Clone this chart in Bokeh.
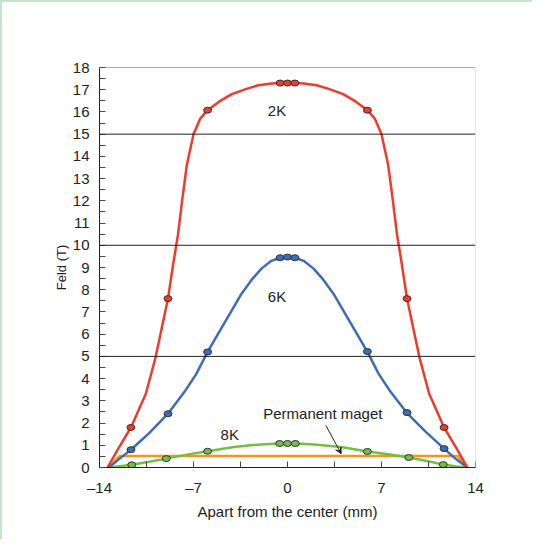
from bokeh.plotting import figure
from bokeh.models import Range1d, FixedTicker, Span, Arrow, VeeHead, ColumnDataSource
from bokeh.layouts import column
from bokeh.core.properties import value
from bokeh.embed import file_html
from bokeh.resources import INLINE

# ---- data ----
red_x = [-13.4, -12.6, -11.66, -10.55, -9.82, -8.9, -8.5, -8.15, -7.85, -7.5, -7.0, -6.5, -5.95,
         -5.0, -4.15, -3.0, -2.18, -1.2, -0.55, 0.0, 0.55, 1.2, 2.18, 3.0, 4.15, 5.0, 5.95, 6.5,
         7.0, 7.5, 7.85, 8.15, 8.5, 8.9, 9.82, 10.55, 11.66, 12.6, 13.4]
red_y = [0.0, 0.85, 1.8, 3.32, 4.97, 7.6, 9.2, 10.5, 12.0, 13.6, 15.0, 15.7, 16.08,
         16.5, 16.8, 17.05, 17.2, 17.28, 17.3, 17.32, 17.3, 17.28, 17.2, 17.05, 16.8, 16.5, 16.08, 15.7,
         15.0, 13.6, 12.0, 10.5, 9.2, 7.6, 4.97, 3.32, 1.8, 0.85, 0.0]
red_mx = [-11.66, -8.9, -5.95, -0.55, 0.0, 0.55, 5.95, 8.9, 11.66]
red_my = [1.8, 7.6, 16.08, 17.3, 17.3, 17.3, 16.08, 7.6, 1.8]

blue_x = [-13.3, -12.5, -11.66, -10.3, -8.9, -7.6, -6.8, -5.95, -4.65, -3.42, -2.6, -1.94, -1.2,
          -0.56, 0.0, 0.56, 1.2, 1.94, 2.6, 3.42, 4.65, 5.95, 6.8, 7.6, 8.9, 10.3, 11.66, 12.5, 13.4]
blue_y = [0.0, 0.4, 0.8, 1.55, 2.42, 3.47, 4.2, 5.2, 6.55, 7.82, 8.5, 8.95, 9.3,
          9.44, 9.47, 9.44, 9.3, 8.95, 8.5, 7.82, 6.55, 5.2, 4.2, 3.47, 2.45, 1.6, 0.85, 0.4, 0.0]
blue_mx = [-11.66, -8.9, -5.95, -0.55, 0.0, 0.55, 5.95, 8.9, 11.66]
blue_my = [0.8, 2.42, 5.2, 9.44, 9.47, 9.44, 5.22, 2.47, 0.85]

green_x = [-13.3, -12.5, -11.6, -10.3, -9.03, -7.5, -5.95, -4.0, -2.0, -0.58, 0.0, 0.58, 2.0,
           4.0, 5.95, 7.5, 9.03, 10.3, 11.6, 12.6, 13.5]
green_y = [0.0, 0.06, 0.12, 0.26, 0.4, 0.58, 0.73, 0.92, 1.04, 1.08, 1.09, 1.08, 1.04,
           0.92, 0.72, 0.6, 0.45, 0.3, 0.13, 0.05, 0.0]
green_mx = [-11.6, -9.03, -5.95, -0.58, 0.0, 0.58, 5.95, 9.03, 11.6]
green_my = [0.12, 0.4, 0.73, 1.08, 1.08, 1.08, 0.72, 0.45, 0.13]

orange_x = [-13.3, -12.5, 12.7, 13.35]
orange_y = [0.0, 0.52, 0.52, 0.0]

labels_txt = ["2K", "6K", "8K", "Permanent maget"]
labels_x = [-0.78, -0.78, -4.3, 2.63]
labels_y = [16.08, 7.7, 1.49, 2.41]

x_ticks = [-14, -7, 0, 7, 14]
x_minor = [-10.5, -3.5, 3.5, 10.5]
y_ticks = list(range(0, 19))
y_minor = [i + 0.5 for i in range(0, 18)]
grid_levels = [5, 10, 15]

FONT = "Liberation Sans"

p = figure(width=530, height=537, output_backend="svg", toolbar_location=None,
           x_range=Range1d(-14, 14), y_range=Range1d(0, 18),
           min_border_left=97, min_border_right=57, min_border_top=65, min_border_bottom=72)
p.background_fill_color = "white"
p.border_fill_color = "white"
p.outline_line_color = None
p.xgrid.visible = False
p.ygrid.visible = False

for lv in grid_levels:
    p.add_layout(Span(location=lv, dimension="width", line_color="#222222", line_width=1))
p.add_layout(Span(location=18, dimension="width", line_color="#555555", line_width=1))
p.add_layout(Span(location=14, dimension="height", line_color="#cccccc", line_width=1))

# axes
xa = p.xaxis[0]
xa.ticker = FixedTicker(ticks=x_ticks, minor_ticks=x_minor)
xa.major_label_overrides = {-14: "\u201314", -7: "\u20137"}
xa.axis_label = "Apart from the center (mm)"
ya = p.yaxis[0]
ya.ticker = FixedTicker(ticks=y_ticks, minor_ticks=y_minor)
ya.axis_label = "Feld (T)"
for ax in (xa, ya):
    ax.axis_line_color = "#222222"
    ax.major_tick_line_color = "#444444"
    ax.minor_tick_line_color = "#444444"
    ax.major_tick_in = 6
    ax.major_tick_out = 0
    ax.minor_tick_in = 6
    ax.minor_tick_out = 0
    ax.major_label_text_font = FONT
    ax.major_label_text_font_size = "15px"
    ax.major_label_text_color = "#222222"
    ax.axis_label_text_font = FONT
    ax.axis_label_text_font_style = "normal"
    ax.axis_label_text_color = "#222222"
xa.major_label_standoff = 11
xa.axis_label_standoff = 4
xa.axis_label_text_font_size = "15px"
ya.major_label_standoff = 10
ya.axis_label_standoff = 1
ya.axis_label_text_font_size = "13px"

RED, BLUE, GREEN, ORANGE = "#ee3b2b", "#3d6cb9", "#71bf44", "#f7941d"

p.line(orange_x, orange_y, line_color=ORANGE, line_width=2.5)
p.line(green_x, green_y, line_color=GREEN, line_width=2.5)
p.line(blue_x, blue_y, line_color=BLUE, line_width=2.5)
p.line(red_x, red_y, line_color=RED, line_width=2.5)

for mx, my, col in ((green_mx, green_my, GREEN), (blue_mx, blue_my, BLUE), (red_mx, red_my, RED)):
    p.ellipse(x=mx, y=my, width=8, height=6, width_units="screen", height_units="screen",
              fill_color=col, line_color="#333333", line_width=1)

src = ColumnDataSource(dict(x=labels_x, y=labels_y, t=labels_txt))
p.text(x="x", y="y", text="t", source=src, text_font=value(FONT), text_font_size="15px",
       text_color="#222222", text_align="center", text_baseline="middle")

p.add_layout(Arrow(end=VeeHead(size=6, line_color="#222222", fill_color="#222222", line_width=1),
                   x_start=2.86, y_start=1.89, x_end=4.0, y_end=0.62,
                   line_color="#222222", line_width=1))

layout = column(p, styles={"border-left": "2px solid #c3e5cc", "border-top": "2px solid #c3e5cc"})

open("out.html", "w").write(file_html(layout, INLINE))
